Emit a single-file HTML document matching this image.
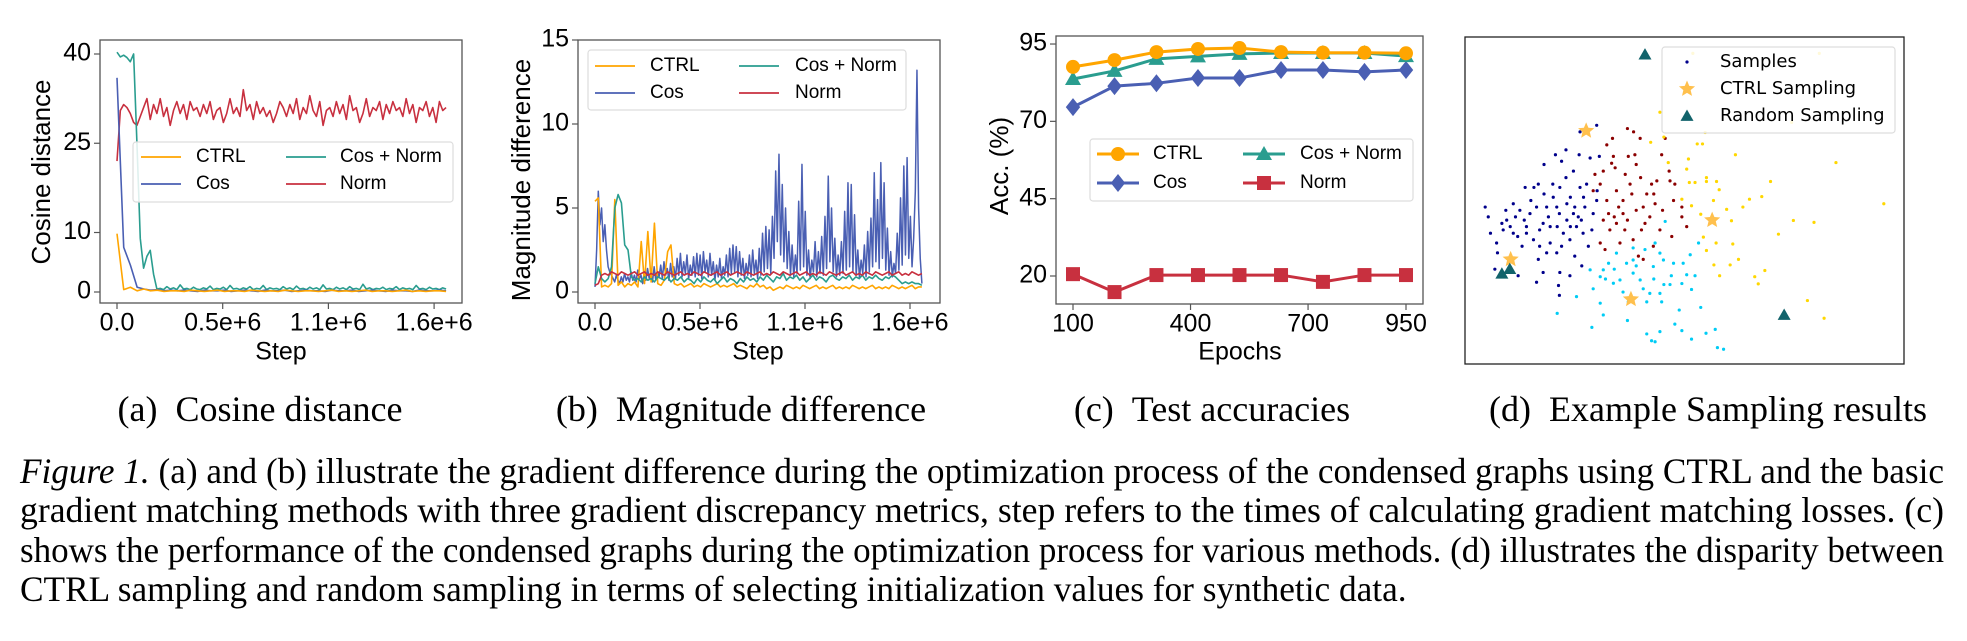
<!DOCTYPE html>
<html><head><meta charset="utf-8">
<style>
html,body{margin:0;padding:0;background:#fff;}
#wrap{position:relative;width:1967px;height:641px;overflow:hidden;}
svg{position:absolute;left:0;top:0;}
.sans{font-family:"Liberation Sans",sans-serif;}
.cap{position:absolute;left:20px;font-family:"Liberation Serif",serif;font-size:36px;line-height:40px;color:#000;white-space:nowrap;transform-origin:0 0;display:inline-block;}
</style></head>
<body>
<div id="wrap">
<svg id="fig" width="1967" height="641" viewBox="0 0 1967 641">
  <text class="sans" x="43" y="172" font-size="26" text-anchor="middle" dominant-baseline="middle" transform="rotate(-90 43 172)">Cosine distance</text>
  <text class="sans" x="281" y="353" font-size="25" text-anchor="middle" dominant-baseline="middle">Step</text>
  <text class="sans" x="523" y="180" font-size="26" text-anchor="middle" dominant-baseline="middle" transform="rotate(-90 523 180)">Magnitude difference</text>
  <text class="sans" x="758" y="353" font-size="25" text-anchor="middle" dominant-baseline="middle">Step</text>
  <text class="sans" x="1001" y="166" font-size="26" text-anchor="middle" dominant-baseline="middle" transform="rotate(-90 1001 166)">Acc. (%)</text>
  <text class="sans" x="1240" y="353" font-size="25" text-anchor="middle" dominant-baseline="middle">Epochs</text>
  <g font-family="Liberation Serif, serif" font-size="36" text-anchor="middle">
    <text x="260" y="421">(a)&#160;&#160;Cosine distance</text>
    <text x="741" y="421">(b)&#160;&#160;Magnitude difference</text>
    <text x="1212" y="421">(c)&#160;&#160;Test accuracies</text>
    <text x="1708" y="421">(d)&#160;&#160;Example Sampling results</text>
  </g>
</svg>
<div class="cap" id="cl1" style="top:451px"><i>Figure 1.</i> (a) and (b) illustrate the gradient difference during the optimization process of the condensed graphs using CTRL and the basic</div>
<div class="cap" id="cl2" style="top:490px">gradient matching methods with three gradient discrepancy metrics, step refers to the times of calculating gradient matching losses. (c)</div>
<div class="cap" id="cl3" style="top:530px">shows the performance of the condensed graphs during the optimization process for various methods. (d) illustrates the disparity between</div>
<div class="cap" id="cl4" style="top:569px">CTRL sampling and random sampling in terms of selecting initialization values for synthetic data.</div>
</div>
<script>
// ---------- DATA ----------
const stepTicks = [0, 530000, 1060000, 1590000];
const stepTickLabels = ["0.0", "0.5e+6", "1.1e+6", "1.6e+6"];
const stepMax = 1650000;

const yTicksA = [0, 10, 25, 40];
const ctrlA = [9.8,0.4,0.8,0.2,0.5,0.2,0.3,0.1,0.2,0.2,0.1,0.3,0.2,0.1,0.2,0.3,0.1,0.2,0.2,0.1,0.3,0.2,0.1,0.2,0.1,0.3,0.2,0.1,0.2,0.2,0.1,0.2,0.3,0.1,0.2,0.1,0.2,0.3,0.1,0.2,0.2,0.1,0.2,0.3,0.1,0.2,0.1,0.2,0.2,0.1];
const cosA = [36,7.5,4.5,0.8,0.5,0.3,0.4,0.2,0.3,0.2,0.3,0.2,0.1,0.3,0.2,0.2,0.3,0.1,0.2,0.3,0.2,0.1,0.3,0.2,0.2,0.3,0.1,0.2,0.3,0.2,0.2,0.1,0.3,0.2,0.2,0.3,0.1,0.2,0.3,0.2,0.1,0.3,0.2,0.2,0.1,0.3,0.2,0.2,0.3,0.2];
const cosNormA = [40.3,39.5,39.8,39.4,38.7,40,25,9,4,6,7,3,0.5,0.6,0.4,0.9,0.5,0.7,0.4,1.2,0.5,0.6,0.4,0.8,0.5,0.4,0.7,0.5,1.0,0.4,0.6,0.5,0.8,0.4,1.1,0.5,0.6,0.4,0.7,0.5,0.9,0.4,0.6,0.5,1.1,0.4,0.7,0.5,0.6,0.4,0.9,0.5,0.7,0.4,1.0,0.5,0.6,0.4,0.8,0.5,0.7,0.4,1.2,0.5,0.6,0.4,0.8,0.5,0.7,0.4,0.9,0.5,0.6,0.4,1.3,0.5,0.7,0.4,0.6,0.5,0.8,0.4,0.6,0.5,0.9,0.4,0.7,0.5,0.6,0.4,1.1,0.5,0.6,0.4,0.8,0.5,0.6,0.4,0.7,0.5];
const normA = [22,30.5,31.5,31,30,28.5,28,29.5,31,32.5,29,31.5,30,32.5,29.5,31,28,30.5,32,30,31.5,29,32,30.5,31,29.5,31.5,30,32,29,30.5,31,28.5,30,32.5,30,31,29.5,34,30.5,31.5,29,32,30,31,29.5,30.5,28.5,30,32,31,29.5,31.5,30,32.5,29,31,30,33,30.5,29.5,32,28,30.5,31,29.5,32,30,31.5,29,33,30.5,31,28.5,30,32.5,29.5,31,30.5,32,29,31.5,30,32,30.5,31,29.5,32.5,30,31.5,28.5,31,30.5,32,29.5,31,28.5,32,30.5,31];

const yTicksB = [0, 5, 10, 15];
const ctrlB = [5.4,5.6,0.3,0.4,0.3,0.5,5.5,0.4,0.6,0.3,0.5,0.4,0.6,0.3,3.0,0.5,3.6,0.6,4.1,0.5,0.4,0.7,2.4,2.8,0.5,0.4,0.5,0.3,0.4,0.5,0.3,0.4,0.3,0.5,0.4,0.3,0.4,0.5,0.3,0.4,0.3,0.4,0.5,0.3,0.4,0.3,0.2,0.4,0.3,0.5,0.3,0.4,0.2,0.3,0.1,0.2,0.3,0.2,0.4,0.3,0.2,0.3,0.2,0.4,0.3,0.2,0.3,0.4,0.2,0.3,0.2,0.3,0.4,0.2,0.3,0.2,0.3,0.2,0.4,0.3,0.2,0.3,0.2,0.3,0.4,0.2,0.3,0.2,0.3,0.2,0.4,0.3,0.2,0.3,0.2,0.3,0.4,0.2,0.3,0.3];
const cosB = [0.3,2.5,6.0,4.0,5.0,3.0,4.0,2.5,1.5,1.2,
1.0,0.8,0.6,1.0,0.7,0.5,0.9,0.6,1.1,0.7,
0.9,0.6,1.2,0.7,1.0,0.6,1.3,0.8,1.0,0.5,
1.2,0.7,1.4,0.8,1.1,0.6,1.5,0.7,1.2,0.9,
1.6,0.8,1.8,1.0,1.4,0.7,1.7,0.9,1.5,0.8,
2.0,1.0,2.3,0.9,1.8,1.1,2.2,0.8,1.6,1.0,
2.1,0.9,2.3,1.0,2.2,0.8,2.4,1.2,1.9,0.9,
2.3,1.0,1.8,0.7,1.6,0.9,2.0,0.8,1.5,1.0,
2.2,0.9,2.6,1.1,2.8,1.2,2.7,0.9,2.4,1.0,
2.0,0.8,1.7,1.0,2.2,0.9,2.5,1.1,1.9,0.8,
2.6,1.0,3.5,1.2,3.9,1.4,3.7,1.1,4.5,2.0,
7.2,3.0,8.2,2.2,6.4,1.8,5.0,1.4,3.6,1.0,
2.8,0.9,2.2,1.1,5.4,1.3,7.6,1.5,4.8,1.0,
2.5,0.8,1.9,1.2,3.0,0.9,2.4,1.1,3.3,1.0,
4.5,1.4,6.9,1.8,5.0,1.2,3.2,0.9,2.2,1.0,
3.0,1.1,4.8,1.3,6.5,1.5,6.4,1.2,4.6,1.0,
2.5,0.8,1.9,1.1,2.8,0.9,3.6,1.2,4.4,1.5,
7.1,1.8,5.5,1.4,7.7,2.0,6.5,1.3,3.8,1.0,
2.4,0.9,1.7,1.1,3.5,1.3,5.6,1.6,7.5,2.2,
8.0,2.0,4.5,1.5,3.2,6.0,13.2,5.0,2.0,0.5];
const cosNormB = [0.5,1.5,0.8,0.6,0.8,1.5,5.0,5.8,5.3,2.8,2.5,0.9,0.7,0.8,0.6,0.9,0.7,0.8,0.6,0.9,0.8,0.7,0.9,0.6,0.8,0.7,0.9,0.6,0.8,0.7,0.5,0.8,0.6,0.9,0.7,0.6,0.8,0.5,0.7,0.9,0.6,0.8,0.7,0.5,0.8,0.6,0.9,0.7,0.8,0.6,0.9,0.7,1.0,0.8,0.6,0.9,0.8,1.1,0.7,0.9,0.8,1.0,0.7,0.9,0.6,0.8,1.0,0.7,0.9,0.8,0.6,0.9,1.0,0.8,0.7,0.9,0.8,1.0,0.7,0.9,0.8,1.0,0.7,0.9,0.8,1.0,0.8,0.7,0.9,0.8,1.0,0.9,0.7,0.5,0.6,0.5,0.6,0.5,0.5,0.4];
const normB = [0.4,0.5,1.0,1.1,1.0,1.2,1.1,1.0,1.2,1.1,1.0,1.1,1.2,1.0,1.1,1.2,1.0,1.1,1.0,1.2,1.1,1.0,1.2,1.1,1.0,1.1,1.2,1.0,1.1,1.0,1.2,1.1,1.0,1.2,1.1,1.0,1.1,1.2,1.0,1.1,1.2,1.0,1.1,1.2,1.1,1.0,1.2,1.1,1.0,1.1,1.2,1.0,1.1,1.0,1.2,1.1,1.0,1.2,1.1,1.0,1.1,1.2,1.0,1.1,1.2,1.0,1.1,1.0,1.2,1.1,1.0,1.2,1.1,1.0,1.1,1.2,1.0,1.1,1.2,1.0,1.1,1.0,1.2,1.1,1.0,1.2,1.1,1.0,1.1,1.2,1.0,1.1,1.2,1.0,1.1,1.0,1.2,1.1,1.0,1.1];

const epochs = [100,206,313,419,525,631,738,844,950];
const epochTicks = [100, 400, 700, 950];
const yTicksC = [20, 45, 70, 95];
const accCtrl = [87.6,89.8,92.4,93.4,93.7,92.4,92.2,92.2,92.0];
const accCosNorm = [83.7,86.3,90.2,91.0,91.8,92.1,92.1,92.1,91.1];
const accCos = [74.6,81.4,82.3,84.0,84.0,86.6,86.6,86.0,86.6];
const accNorm = [20.6,14.8,20.3,20.3,20.3,20.3,18.1,20.3,20.3];

const navyPts = [[4.6,48],[5.3,45],[5.8,40],[7.2,37],[7.4,34],[8.4,43],[9.3,47],[11,49],[12,39],[13,36],[13.7,54],[15.7,54],[16.7,55],[14.8,46],[17,41],[16.7,32],[17.8,28],[16.3,25],[18,61],[20.6,64],[23,65.5],[22,62],[21.6,54],[20.9,48],[19.4,42],[20.9,34],[21.6,28],[21.3,24],[21.5,21],[24.7,59],[26,64],[26.2,54],[24.7,46],[25.4,42],[23.9,38],[25,33],[26.6,30],[23.9,27],[27.7,55],[27.3,48],[26.9,40],[28.5,63],[30.6,63.5],[30,73],[26.2,71],[30.1,53],[29.2,46],[28.9,41],[28.1,36],[30,50],[12.1,27],[6.8,29],[14,42],[18.6,48],[23.2,44],[20.1,51],[16.3,48],[10.3,42],[8.7,41],[12.5,47],[19.4,37],[22.4,40],[25.8,45],[23.2,49],[17.8,43],[15.6,38],[18.6,34],[9.5,44],[11.5,45],[13.5,44],[15,50],[19,45],[21.5,46],[24,51],[26.5,44],[22,36],[17,36],[20,55],[23,57],[25,48],[27,51],[18,52],[14,40],[11,40],[21,42],[24,42]];
const maroonPts = [[37,72],[38.4,71],[39.9,69],[33.6,69],[32.3,67],[33.8,63.5],[33.4,61.4],[37.2,63.5],[38.7,64],[39,61],[34.2,60],[31.5,59],[29.6,58],[29.2,53],[30.8,55],[32.3,50],[32.7,46],[31.5,44],[33,41],[34.5,53],[36,50],[38,52],[37.6,55],[36,46],[36.4,41],[38.3,38],[35.3,37],[40.2,41],[41.4,52],[42.5,55],[43.7,56],[44.8,64],[45.6,69],[46.5,59],[46.7,56],[47.8,55],[47.5,50],[43.3,49],[42.1,45],[44.4,41],[42.9,36],[40.6,32],[39.5,33],[49.4,45],[50.5,42],[49.4,48],[47.1,39],[30.8,37],[31.9,35],[40.6,48],[34.5,43],[35,48],[37,44],[39,47],[41,43],[43,52],[45,47],[34,45],[36.5,58],[40,57]];
const cyanPts = [[45.6,43.6],[43.3,37],[41,35],[38.3,35.5],[34.5,33.9],[32.7,30.8],[31.5,28.8],[30.8,26.7],[29.2,23],[28.5,28.8],[25.4,20.6],[21,15.5],[30.8,18.6],[31.5,15],[33.8,24.7],[35.3,25.7],[36.8,30.8],[38.3,27.8],[39.9,25.7],[40.6,23],[42.1,21.6],[37.2,19],[41.4,19],[37,13.3],[28.9,11.2],[41.4,9.2],[42.5,7.1],[43.3,6.8],[44.4,9.9],[47.8,12.2],[49.4,10.2],[48.8,16.5],[51.6,7.6],[53.7,17.3],[54.9,9.4],[57,10.6],[57.5,5],[58.9,4.5],[44.8,19],[44.4,21.6],[45.3,24.3],[46.7,24.3],[49.4,24.6],[50.5,27.3],[52.4,27],[51.6,22.8],[49.7,30.8],[51.3,33.4],[53.2,37],[47.5,30.8],[45.2,31.8],[44.4,33.9],[42.9,29.8],[38.3,31.8],[32,26],[34,29],[36,22],[39,30],[43,26],[47,27]];
const yellowPts = [[42.3,67.8],[45.3,69.4],[44.4,77],[52.9,67.3],[54.1,67.3],[54.7,70.8],[50.9,62.7],[50.5,59.6],[46.3,61.6],[51.1,55.5],[52.4,55.5],[55,57],[57.3,55.8],[55,55.8],[57.9,53.3],[61.6,64],[56.6,50],[59.6,47.3],[63.3,48],[64.8,50.4],[67.6,51.2],[69.6,55.8],[84.5,61.6],[95.4,49],[74.8,43.9],[79.5,43.3],[71.4,39.7],[60.7,43.8],[57.2,37],[55,34.7],[61,36.7],[62.3,32],[56.7,30.3],[60.4,30.3],[58,27],[66,26.7],[68.3,28.6],[66.8,24.5],[78,19.4],[81.8,14],[53.7,45.8],[51.6,48.4],[49.4,50.4],[54.3,38.8],[51.9,95],[80.7,95],[74.4,73.9]];
const ctrlSamplePts = [[27.6,71.3],[10.4,32],[56.3,44],[37.8,19.8]];
const randomSamplePts = [[41,94.6],[8.4,27.6],[10.2,29],[72.7,15]];

// ---------- DRAWING ----------
const NS = "http://www.w3.org/2000/svg";
const svg = document.getElementById('fig');
function mk(tag, attrs, parent){
  const e = document.createElementNS(NS, tag);
  for (const k in attrs) e.setAttribute(k, attrs[k]);
  (parent || svg).appendChild(e);
  return e;
}
const C = {orange:"#ffa500", blue:"#4a5fb3", teal:"#2a9d8f", red:"#c8303f"};

function axesBox(x0,x1,y0,y1,name){
  const r = mk('rect',{x:x0,y:y0,width:x1-x0,height:y1-y0,fill:"none",stroke:"#555","stroke-width":1.3});
  
  
}
function yTicks(ticks, labels, fy, xAxis, name){
  ticks.forEach((t,i)=>{
    const y = fy(t);
    const l = mk('line',{x1:xAxis-6,x2:xAxis,y1:y,y2:y,stroke:"#555","stroke-width":1.2});
    
    
    const tx = mk('text',{x:xAxis-9,y:y,"font-size":25,"text-anchor":"end","dominant-baseline":"middle","font-family":"Liberation Sans, sans-serif"});
    tx.textContent = labels[i];
    
    
  });
}
function xTicks(ticks, labels, fx, yAxis, name){
  ticks.forEach((t,i)=>{
    const x = fx(t);
    const l = mk('line',{x1:x,x2:x,y1:yAxis,y2:yAxis+6,stroke:"#555","stroke-width":1.2});
    
    
    const tx = mk('text',{x:x,y:yAxis+21,"font-size":25,"text-anchor":"middle","dominant-baseline":"middle","font-family":"Liberation Sans, sans-serif"});
    tx.textContent = labels[i];
    
    
  });
}
function series(vals, fx, fy, color, width, name){
  const n = vals.length;
  const d = vals.map((v,i)=>(i?'L':'M')+fx(i*stepMax/(n-1)).toFixed(2)+','+fy(v).toFixed(2)).join('');
  const p = mk('path',{d:d,fill:"none",stroke:color,"stroke-width":width,"stroke-linejoin":"round"});
  
  
}
function legendBox(x,y,w,h,name){
  const r = mk('rect',{x:x,y:y,width:w,height:h,rx:3,fill:"#fff","fill-opacity":0.85,stroke:"#ddd","stroke-width":1.2});
  
  
}
function legendLine(x,y,color,label,lx,name,fs){
  const l = mk('line',{x1:x,x2:x+40,y1:y,y2:y,stroke:color,"stroke-width":1.8});
  
  
  const t = mk('text',{x:lx,y:y,"font-size":fs||19,"dominant-baseline":"middle","font-family":"Liberation Sans, sans-serif"});
  t.textContent = label;
  
  
}
function marker(kind, x, y, s, color, name){
  let e;
  if (kind==='circle') e = mk('circle',{cx:x,cy:y,r:s,fill:color});
  else if (kind==='diamond') e = mk('path',{d:`M${x},${y-s}L${x+s*0.8},${y}L${x},${y+s}L${x-s*0.8},${y}Z`,fill:color});
  else if (kind==='tri') e = mk('path',{d:`M${x},${y-s}L${x+s},${y+s*0.75}L${x-s},${y+s*0.75}Z`,fill:color});
  else e = mk('rect',{x:x-s,y:y-s,width:2*s,height:2*s,fill:color});
  
  
}

// ---- Panel A ----
const xa = v => 117 + v/530000*105.7;
const ya = v => 292 - v*5.95;
series(normA, xa, ya, C.red, 1.6, 'norm-line-a');
series(cosNormA, xa, ya, C.teal, 1.6, 'cos-norm-line-a');
series(cosA, xa, ya, C.blue, 1.6, 'cos-line-a');
series(ctrlA, xa, ya, C.orange, 1.6, 'ctrl-line-a');
axesBox(100,462,40,303,'axes-a');
yTicks(yTicksA, yTicksA.map(String), ya, 100, 'y-axis-a');
xTicks(stepTicks, stepTickLabels, xa, 303, 'x-axis-a');
legendBox(133,142,320,60,'legend-a');
legendLine(141,157,C.orange,'CTRL',196,'legend-ctrl-a');
legendLine(141,184,C.blue,'Cos',196,'legend-cos-a');
legendLine(286,157,C.teal,'Cos + Norm',340,'legend-cos-norm-a');
legendLine(286,184,C.red,'Norm',340,'legend-norm-a');

// ---- Panel B ----
const xb = v => 595 + v/530000*105;
const yb = v => 292 - v*16.8;
series(cosB, xb, yb, C.blue, 1.5, 'cos-line-b');
series(ctrlB, xb, yb, C.orange, 1.6, 'ctrl-line-b');
series(cosNormB, xb, yb, C.teal, 1.6, 'cos-norm-line-b');
series(normB, xb, yb, C.red, 1.6, 'norm-line-b');
axesBox(578,940,40,303,'axes-b');
yTicks(yTicksB, yTicksB.map(String), yb, 578, 'y-axis-b');
xTicks(stepTicks, stepTickLabels, xb, 303, 'x-axis-b');
legendBox(588,50,318,60,'legend-b');
legendLine(595,66,C.orange,'CTRL',650,'legend-ctrl-b');
legendLine(595,93,C.blue,'Cos',650,'legend-cos-b');
legendLine(739,66,C.teal,'Cos + Norm',795,'legend-cos-norm-b');
legendLine(739,93,C.red,'Norm',795,'legend-norm-b');

// ---- Panel C ----
const xc = v => 1073 + (v-100)/850*333;
const yc = v => 276 - (v-20)*3.093;
const seriesC = [[accNorm,C.red,'square','norm'],[accCos,C.blue,'diamond','cos'],[accCosNorm,C.teal,'tri','cos-norm'],[accCtrl,C.orange,'circle','ctrl']];
const mSize = {square:7, diamond:9, tri:8, circle:7};
seriesC.forEach(([vals,color,kind,nm])=>{
  const d = vals.map((v,i)=>(i?'L':'M')+xc(epochs[i]).toFixed(2)+','+yc(v).toFixed(2)).join('');
  const p = mk('path',{d:d,fill:"none",stroke:color,"stroke-width":3});
  
  
  vals.forEach((v,i)=>marker(kind, xc(epochs[i]), yc(v), mSize[kind], color, nm+'-accuracy-point'));
});
axesBox(1056,1423,36,304,'axes-c');
yTicks(yTicksC, yTicksC.map(String), yc, 1056, 'y-axis-c');
xTicks(epochTicks, epochTicks.map(String), xc, 304, 'x-axis-c');
legendBox(1090,139,323,62,'legend-c');
[[1097,154,C.orange,'circle','CTRL',1153,'legend-ctrl-c'],[1097,183,C.blue,'diamond','Cos',1153,'legend-cos-c'],
 [1243,154,C.teal,'tri','Cos + Norm',1300,'legend-cos-norm-c'],[1243,183,C.red,'square','Norm',1300,'legend-norm-c']].forEach(e=>{
  const l = mk('line',{x1:e[0],x2:e[0]+42,y1:e[1],y2:e[1],stroke:e[2],"stroke-width":3});
  
  
  marker(e[3], e[0]+21, e[1], mSize[e[3]], e[2], e[6]+'-marker');
  const t = mk('text',{x:e[5],y:e[1],"font-size":19,"dominant-baseline":"middle","font-family":"Liberation Sans, sans-serif"});
  t.textContent = e[4];
  
  
});

// ---- Panel D ----
const xd = v => 1465 + v/100*439;
const yd = v => 364 - v/100*327;
[[navyPts,'#00008b','navy'],[maroonPts,'#8b0000','maroon'],[cyanPts,'#00ccf5','cyan'],[yellowPts,'#ffd700','yellow']].forEach(([pts,col,nm])=>{
  pts.forEach(p=>{
    const c = mk('circle',{cx:xd(p[0]),cy:yd(p[1]),r:1.6,fill:col});
    
    
  });
});
function star(x,y,r,col,name){
  let d='';
  for(let i=0;i<10;i++){const a=-Math.PI/2+i*Math.PI/5;const rr=i%2?r*0.45:r;d+=(i?'L':'M')+(x+rr*Math.cos(a)).toFixed(2)+','+(y+rr*Math.sin(a)).toFixed(2);}
  const s = mk('path',{d:d+'Z',fill:col});
  
  
}
ctrlSamplePts.forEach(p=>star(xd(p[0]),yd(p[1]),8.5,'#ffc04d','ctrl-sampling-star'));
randomSamplePts.forEach(p=>marker('tri', xd(p[0]), yd(p[1]), 6.5, '#12636b', 'random-sampling-triangle'));
const bd = mk('rect',{x:1465,y:37,width:439,height:327,fill:"none",stroke:"#222","stroke-width":1.3});


legendBox(1662,47,233,86,'legend-d');
const dotL = mk('circle',{cx:1687,cy:62,r:1.6,fill:'#00008b'});


star(1687,89,8.5,'#ffc04d','legend-ctrl-sampling-marker');
marker('tri',1687,116,6.5,'#12636b','legend-random-sampling-marker');
[['Samples',62,'legend-samples'],['CTRL Sampling',89,'legend-ctrl-sampling'],['Random Sampling',116,'legend-random-sampling']].forEach(e=>{
  const t = mk('text',{x:1720,y:e[1],"font-size":18,"dominant-baseline":"middle","font-family":"DejaVu Sans, sans-serif"});
  t.textContent = e[0];
  
  
});

// ---- Caption fitting (compress to page width) ----
const capTarget = 1924;
let sSum = 0;
['cl1','cl2','cl3'].forEach(id=>{
  const e = document.getElementById(id);
  const s = capTarget / e.getBoundingClientRect().width;
  sSum += s;
  e.style.transform = 'scaleX(' + s + ')';
});
document.getElementById('cl4').style.transform = 'scaleX(' + (sSum/3) + ')';
</script>
</body></html>
